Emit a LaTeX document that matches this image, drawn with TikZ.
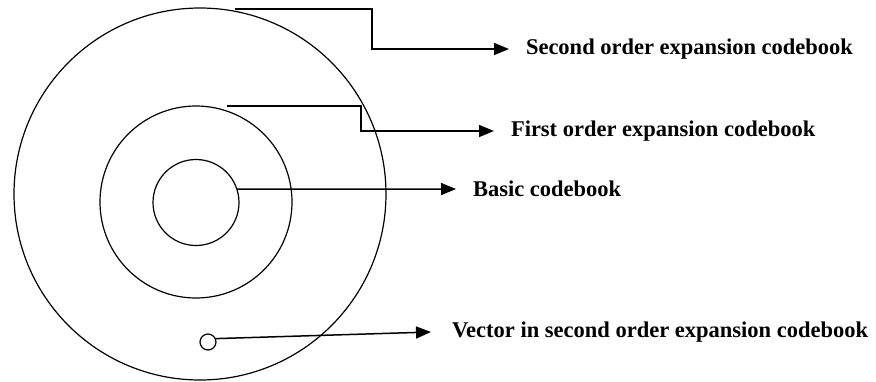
\documentclass[tikz,border=0pt]{standalone}
\usepackage{fontspec}
\setmainfont{Liberation Serif}
\usetikzlibrary{arrows.meta}
\begin{document}
\begin{tikzpicture}[x=1pt,y=-1pt,
  ring/.style={circle,draw,line width=1.2pt,inner sep=0pt,outer sep=0pt},
  conn/.style={line width=1.5pt,-{Triangle[length=15pt,width=12pt]}},
  lab/.style={font=\fontsize{22.5}{26}\selectfont\bfseries,inner sep=0pt,outer xsep=17pt,anchor=west}]
\useasboundingbox (0,0) rectangle (876,381);
\node[ring,minimum size=372pt] (outer) at (200,194) {};
\node[ring,minimum size=192pt] (middle) at (196,202) {};
\node[ring,minimum size=86pt] (inner) at (196,202.5) {};
\node[ring,minimum size=16pt] (vec) at (208,342) {};
\coordinate (s2) at (235,9);
\coordinate (s1) at (227,106);
\node[lab] (t2) at (509,49) {Second order expansion codebook};
\node[lab] (t1) at (494,131) {First order expansion codebook};
\node[lab] (t0) at (456,189) {Basic codebook};
\node[lab,outer xsep=21pt] (tv) at (431,332) {Vector in second order expansion codebook};
\draw[conn] (s2) -- (372,9) |- (t2.west);
\draw[conn] (s1) -- (361,106) |- (t1.west);
\draw[conn] (inner.18) -- (t0.west);
\draw[conn] (vec.25) -- (tv.west);
\end{tikzpicture}
\end{document}
